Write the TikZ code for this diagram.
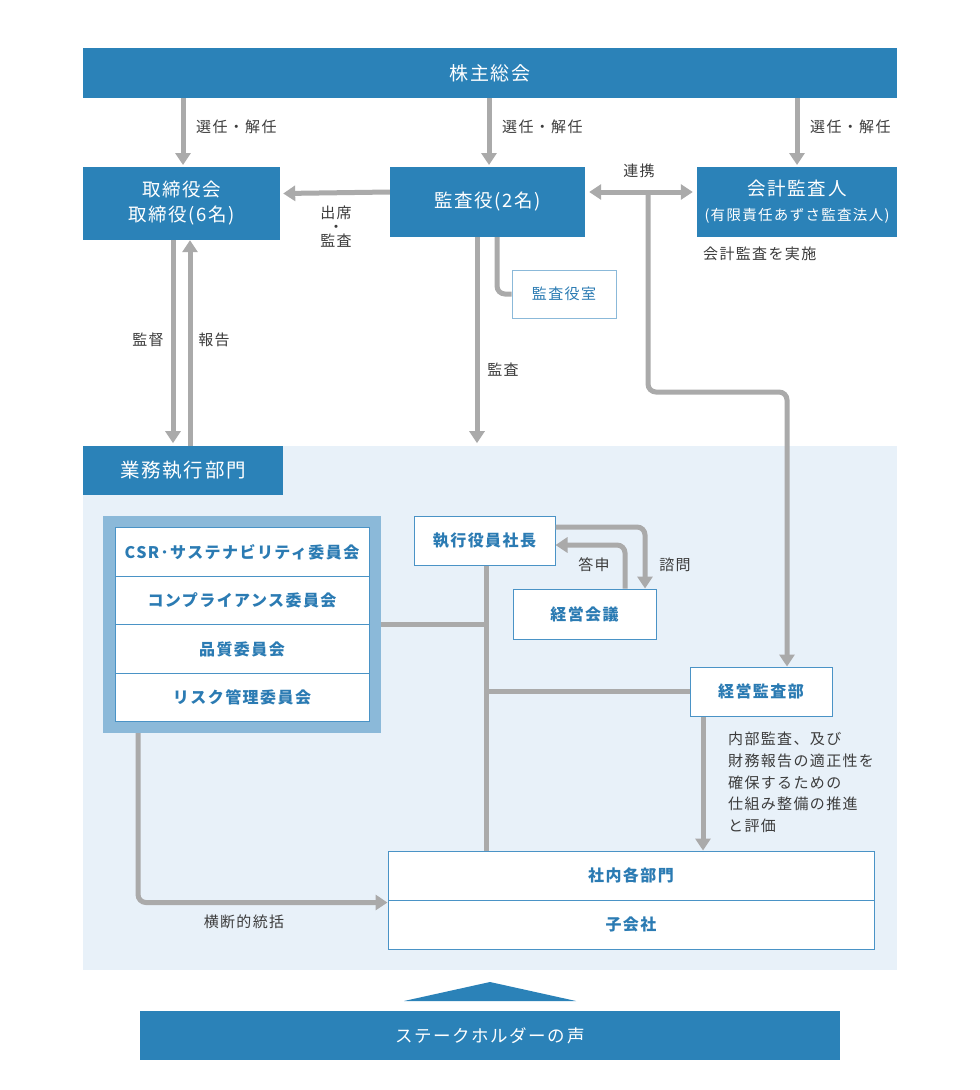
\documentclass[tikz,border=0pt]{standalone}
\usepackage{fontspec}
\setmainfont{Noto Sans CJK JP}[LetterSpace=9]
\usetikzlibrary{arrows.meta,calc}
\definecolor{dblue}{HTML}{2B82B8}
\definecolor{tblue}{HTML}{2B7BB3}
\definecolor{lbg}{HTML}{E8F1F9}
\definecolor{frameb}{HTML}{8BB9D9}
\definecolor{bord}{HTML}{4A93C6}
\definecolor{agray}{HTML}{AAAAAA}
\definecolor{tgray}{HTML}{3C3C3C}
\tikzset{
  darkbox/.style={fill=dblue, text=white, inner sep=0pt, align=center, font=\fontsize{18.5}{25}\selectfont},
  whitebox/.style={fill=white, draw=bord, line width=1pt, text=tblue, inner sep=0pt, align=center, font=\bfseries\fontsize{16}{20}\selectfont},
  lbl/.style={text=tgray, inner sep=0pt, font=\fontsize{15}{21.7}\selectfont},
  conn/.style={draw=agray, line width=5pt},
  arr/.style={conn, -{Triangle[width=15pt,length=12pt]}},
  darr/.style={conn, {Triangle[width=15pt,length=12pt]}-{Triangle[width=15pt,length=12pt]}},
}
\begin{document}
\begin{tikzpicture}[x=1pt,y=-1pt]
\useasboundingbox[fill=white] (0,0) rectangle (980,1090);
% background of execution area
\fill[lbg] (83,446) rectangle (897,970);
% top row
\node[darkbox, font=\fontsize{19}{25}\selectfont, minimum width=814pt, minimum height=50pt] (gm) at (490,73) {株主総会};
\node[darkbox, minimum width=197pt, minimum height=73pt] (tor) at (181.5,203.5) {取締役会\\取締役(6名)};
\node[darkbox, minimum width=195pt, minimum height=70pt] (kan) at (487.5,202) {監査役(2名)};
\node[darkbox, minimum width=200pt, minimum height=70pt] (kai) at (797,202) {会計監査人\\{\fontsize{14.5}{20}\selectfont (有限責任あずさ監査法人)}};
\node[whitebox, draw=frameb, font=\fontsize{15}{20}\selectfont, minimum width=104pt, minimum height=48pt] (shitsu) at (564,294) {監査役室};
% execution tab
\node[darkbox, font=\fontsize{19.5}{25}\selectfont, minimum width=200pt, minimum height=49pt] (gyomu) at (183,470.5) {業務執行部門};
% committees
\node[fill=frameb, minimum width=278pt, minimum height=217pt, inner sep=0pt] (comm) at (242,624.5) {};
\node[whitebox, minimum width=254pt, minimum height=48.5pt] (c1) at (242,552) {CSR･サステナビリティ委員会};
\node[whitebox, minimum width=254pt, minimum height=48.5pt] (c2) at (242,600.5) {コンプライアンス委員会};
\node[whitebox, minimum width=254pt, minimum height=48.5pt] (c3) at (242,649) {品質委員会};
\node[whitebox, minimum width=254pt, minimum height=48.5pt] (c4) at (242,697.5) {リスク管理委員会};
% execution nodes
\node[whitebox, minimum width=141pt, minimum height=49pt] (sha) at (484.5,540.5) {執行役員社長};
\node[whitebox, minimum width=143pt, minimum height=50pt] (kei) at (584.5,614) {経営会議};
\node[whitebox, minimum width=142pt, minimum height=49pt] (kbu) at (761,691.5) {経営監査部};
\node[whitebox, minimum width=486pt, minimum height=49pt] (shanai) at (631,875.5) {社内各部門};
\node[whitebox, minimum width=486pt, minimum height=49pt] (ko) at (631,924.5) {子会社};
% stakeholders
\fill[dblue] (404,1001) -- (490,982) -- (576,1001) -- cycle;
\node[darkbox, font=\fontsize{17.5}{25}\selectfont, minimum width=700pt, minimum height=49pt] (sh) at (490,1035.5) {ステークホルダーの声};
% connectors
\draw[arr] (gm.south -| 183,0) -- (183,165);
\draw[arr] (gm.south -| 489,0) -- (489,165);
\draw[arr] (gm.south -| 797,0) -- (797,165);
\draw[arr] ([yshift=10pt]kan.west) -- ([yshift=10pt,xshift=3pt]tor.east);
\draw[darr] ([yshift=10pt,xshift=4pt]kan.east) -- ([yshift=10pt,xshift=-4pt]kai.west);
\coordinate (j1) at (648,192);
\draw[arr, rounded corners=8pt] (j1) -- (648,392) -- (787,392) -- ([xshift=26pt]kbu.north);
\draw[conn, rounded corners=8pt] ([xshift=9.5pt]kan.south) |- (shitsu.west);
\draw[arr] ([xshift=-10.5pt]kan.south) -- ++(0,206);
\draw[arr] ([xshift=-8.5pt]tor.south) -- ++(0,203);
\draw[arr] ($(gyomu.north)+(7,0)$) -- ($(tor.south)+(8.5,0)$);
\draw[arr, rounded corners=8pt] ([yshift=13.5pt]sha.east) -| ([xshift=60.5pt]kei.north);
\draw[arr, rounded corners=8pt] ([xshift=40.5pt]kei.north) |- ([yshift=-4.5pt]sha.east);
\draw[conn] ([xshift=1.5pt]sha.south) -- ([xshift=1.5pt]sha.south |- shanai.north);
\draw[conn] (comm.east) -- (comm.east -| 486,0);
\draw[conn] (kbu.west) -- (kbu.west -| 486,0);
\draw[arr] ([xshift=-58pt]kbu.south) -- ([xshift=-58pt]kbu.south |- shanai.north);
\draw[arr, rounded corners=8pt] ([xshift=-104pt]comm.south) |- ($(ko.north west)+(0,3)$);
% labels
\node[lbl, anchor=west] (l1) at (196,127) {選任・解任};
\node[lbl, anchor=west] (l2) at (502,127) {選任・解任};
\node[lbl, anchor=west] (l3) at (810,127) {選任・解任};
\node[lbl, align=center, font=\fontsize{15}{14}\selectfont] (l4) at (336,227) {出席\\・\\監査};
\node[lbl] (l5) at (639,171) {連携};
\node[lbl, anchor=west] (l6) at (703,254) {会計監査を実施};
\node[lbl] (l7) at (148,340) {監督};
\node[lbl] (l8) at (214,340) {報告};
\node[lbl] (l9) at (503,370) {監査};
\node[lbl] (l10) at (594,565) {答申};
\node[lbl] (l11) at (675,565) {諮問};
\node[lbl, anchor=north west, align=left] (l12) at (728,732) {内部監査、及び\\財務報告の適正性を\\確保するための\\仕組み整備の推進\\と評価};
\node[lbl] (l13) at (244,922) {横断的統括};
\end{tikzpicture}
\end{document}
